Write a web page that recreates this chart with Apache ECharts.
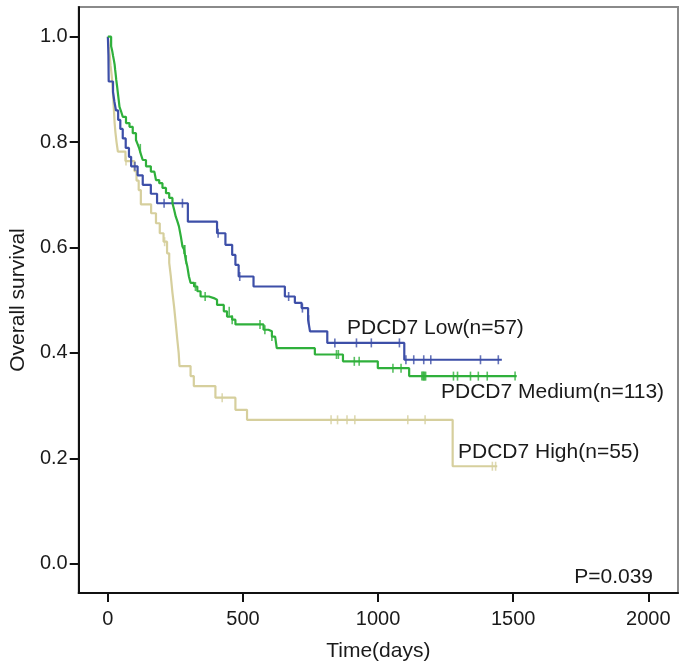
<!DOCTYPE html>
<html>
<head>
<meta charset="utf-8">
<script src="https://cdn.jsdelivr.net/npm/echarts@6/dist/echarts.min.js"></script>
<style>
html,body{margin:0;padding:0;background:#fff;}
#chart{width:686px;height:669px;}
</style>
</head>
<body>
<div id="chart"></div>
<script>
// ---- data (days, survival) ----
const xTicks = [0, 500, 1000, 1500, 2000];
const yTicks = [0.0, 0.2, 0.4, 0.6, 0.8, 1.0];

const lowName = 'PDCD7 Low(n=57)';
const mediumName = 'PDCD7 Medium(n=113)';
const highName = 'PDCD7 High(n=55)';
const pValueText = 'P=0.039';

const lowCurve = [[0,1.0],[2,0.965],[3,0.915],[19,0.895],[24,0.877],[30,0.860],[38,0.842],[46,0.825],[55,0.807],[66,0.789],[78,0.772],[86,0.754],[110,0.737],[129,0.719],[159,0.702],[182,0.684],[296,0.649],[404,0.627],[435,0.605],[460,0.586],[472,0.567],[484,0.545],[539,0.526],[655,0.507],[692,0.495],[717,0.485],[741,0.463],[748,0.441],[812,0.419],[1097,0.387],[1458,0.387]];
const lowCensor = [[100,0.754],[208,0.684],[276,0.684],[408,0.627],[488,0.545],[669,0.507],[720,0.485],[743,0.463],[840,0.419],[920,0.419],[975,0.419],[1079,0.419],[1103,0.387],[1132,0.387],[1169,0.387],[1195,0.387],[1379,0.387],[1445,0.387]];

const mediumCurve = [[0,1.0],[12,0.982],[16,0.973],[19,0.964],[22,0.956],[25,0.947],[27,0.937],[29,0.928],[31,0.918],[34,0.906],[37,0.893],[40,0.880],[43,0.867],[49,0.858],[55,0.848],[67,0.836],[80,0.829],[92,0.817],[104,0.804],[110,0.796],[116,0.788],[122,0.777],[129,0.766],[141,0.754],[159,0.744],[172,0.741],[178,0.728],[190,0.722],[202,0.713],[215,0.703],[227,0.694],[239,0.684],[245,0.672],[251,0.659],[257,0.650],[263,0.640],[270,0.621],[276,0.602],[282,0.596],[288,0.577],[294,0.564],[300,0.545],[306,0.533],[319,0.526],[331,0.517],[343,0.507],[374,0.504],[392,0.501],[404,0.491],[429,0.479],[441,0.469],[460,0.463],[472,0.454],[576,0.444],[594,0.441],[607,0.431],[619,0.428],[625,0.409],[766,0.397],[870,0.384],[999,0.371],[1115,0.356],[1513,0.356]];
const mediumCensor = [[120,0.788],[282,0.596],[285,0.596],[290,0.577],[324,0.526],[360,0.507],[449,0.479],[460,0.463],[563,0.454],[581,0.444],[607,0.431],[846,0.397],[853,0.397],[912,0.384],[930,0.384],[1055,0.371],[1085,0.371],[1162,0.356],[1166,0.356],[1169,0.356],[1172,0.356],[1176,0.356],[1279,0.356],[1294,0.356],[1342,0.356],[1371,0.356],[1404,0.356],[1507,0.356]];

const highCurve = [[0,1.0],[3,0.982],[7,0.964],[10,0.945],[14,0.927],[17,0.909],[19,0.891],[21,0.873],[23,0.855],[25,0.836],[28,0.818],[32,0.800],[37,0.782],[65,0.764],[98,0.745],[106,0.727],[114,0.709],[122,0.682],[160,0.665],[178,0.646],[192,0.627],[206,0.611],[219,0.589],[227,0.571],[233,0.545],[239,0.514],[245,0.488],[251,0.457],[257,0.425],[262,0.400],[265,0.375],[306,0.356],[318,0.337],[398,0.315],[472,0.292],[515,0.273],[1276,0.185],[1441,0.185]];
const highCensor = [[67,0.764],[210,0.611],[423,0.315],[826,0.273],[850,0.273],[885,0.273],[914,0.273],[1110,0.273],[1174,0.273],[1423,0.185],[1435,0.185]];

// ---- styling ----
const colLow = '#3d4fa8';
const colMed = '#2fb03b';
const colHigh = '#d6cf9d';
const FONT = 'Liberation Sans';
const TXT = '#1a1a1a';

function curve(name, data, color, z) {
  return { name, type: 'line', data, step: 'end', showSymbol: false, symbol: 'none',
    lineStyle: { color, width: 2.2 }, z, silent: true, animation: false };
}
function censor(name, data, color, z) {
  return { name: name + ' censored', type: 'scatter', data, symbol: 'rect', symbolSize: [1.6, 9],
    itemStyle: { color }, z, silent: true, animation: false };
}

const chart = echarts.init(document.getElementById('chart'), null, { renderer: 'canvas' });
const option = {
  animation: false,
  backgroundColor: '#ffffff',
  grid: { left: 76, right: 8, top: 7, bottom: 76, show: true, borderColor: '#8a8a8a', borderWidth: 2, containLabel: false },
  xAxis: {
    type: 'value', min: -108, max: 2110,
    name: 'Time(days)', nameLocation: 'middle', nameGap: 48,
    nameTextStyle: { fontFamily: FONT, fontSize: 21, color: TXT },
    axisLine: { show: true, onZero: false, lineStyle: { color: '#111', width: 2 } },
    axisTick: { show: true, length: 9, customValues: xTicks, lineStyle: { color: '#111', width: 2 } },
    axisLabel: { customValues: xTicks, margin: 16, fontFamily: FONT, fontSize: 20, color: TXT,
      formatter: v => String(Math.round(v)) },
    splitLine: { show: false }
  },
  yAxis: {
    type: 'value', min: -0.0555, max: 1.0563,
    name: 'Overall survival', nameLocation: 'middle', nameGap: 48,
    nameTextStyle: { fontFamily: FONT, fontSize: 21, color: TXT },
    axisLine: { show: true, onZero: false, lineStyle: { color: '#111', width: 2 } },
    axisTick: { show: true, length: 9, customValues: yTicks, lineStyle: { color: '#111', width: 2 } },
    axisLabel: { customValues: yTicks, margin: 11, fontFamily: FONT, fontSize: 20, color: TXT,
      formatter: v => Number(v).toFixed(1) },
    splitLine: { show: false }
  },
  series: [
    curve(highName, highCurve, colHigh, 2),
    curve(lowName, lowCurve, colLow, 3),
    curve(mediumName, mediumCurve, colMed, 4),
    censor(highName, highCensor, colHigh, 5),
    censor(lowName, lowCensor, colLow, 6),
    censor(mediumName, mediumCensor, colMed, 7)
  ],
  graphic: [
    { type: 'text', left: 347, top: 318, style: { text: lowName, font: '21px "Liberation Sans"', fill: TXT } },
    { type: 'text', left: 441, top: 382, style: { text: mediumName, font: '21px "Liberation Sans"', fill: TXT } },
    { type: 'text', left: 458, top: 442, style: { text: highName, font: '21px "Liberation Sans"', fill: TXT } },
    { type: 'text', right: 33, top: 567, style: { text: pValueText, font: '21px "Liberation Sans"', fill: TXT } }
  ]
};
chart.setOption(option);
</script>
</body>
</html>
